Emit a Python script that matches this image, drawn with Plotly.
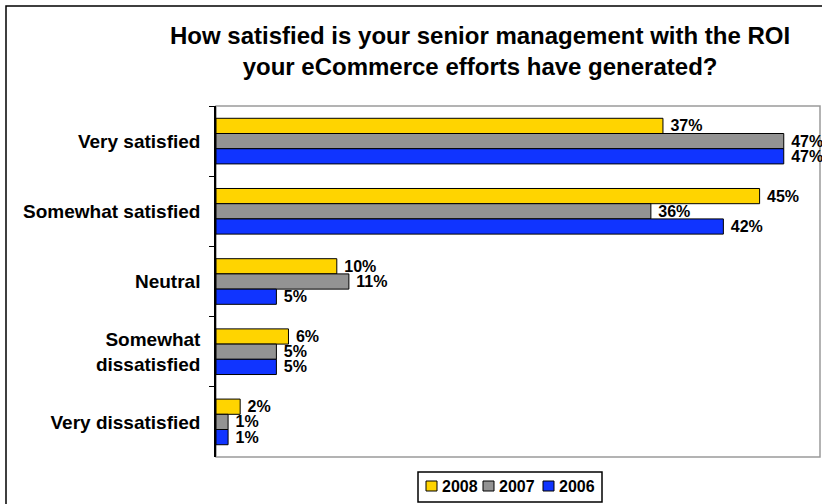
import plotly.graph_objects as go

# Survey responses (% of respondents) by year
categories = ["Very satisfied", "Somewhat satisfied", "Neutral",
              "Somewhat<br>dissatisfied", "Very dissatisfied"]
years = ["2008", "2007", "2006"]
values_2008 = [37, 45, 10, 6, 2]
values_2007 = [47, 36, 11, 5, 1]
values_2006 = [47, 42, 5, 5, 1]
colors = ["#FFD400", "#939393", "#1034FF"]

FONT = "Liberation Sans, Arial, sans-serif"

W, H = 822, 504
ML, MR, MT, MB = 216, 2, 106, 47
pw, ph = W - ML - MR, H - MT - MB


def px_x(p):
    return (p - ML) / pw


def px_y(p):
    return (H - MB - p) / ph


fig = go.Figure()
for year, vals, col in zip(years, [values_2008, values_2007, values_2006], colors):
    fig.add_trace(go.Bar(
        y=categories, x=vals, name=year, orientation="h",
        marker=dict(color=col, line=dict(color="black", width=1)),
        text=[f" {v}%" for v in vals], textposition="outside",
        textfont=dict(family=FONT, size=16, color="black", weight="bold"),
        constraintext="none", cliponaxis=False, showlegend=False,
    ))

shapes = [
    # plot area frame
    dict(type="rect", xref="paper", yref="paper", x0=0, x1=1, y0=0, y1=1,
         line=dict(color="#9a9a9a", width=1.5), layer="below"),
    # outer chart border
    dict(type="rect", xref="paper", yref="paper",
         x0=px_x(6), x1=px_x(W + 10), y0=px_y(H + 10), y1=px_y(6),
         line=dict(color="black", width=1.5), layer="below"),
    # legend box
    dict(type="rect", xref="paper", yref="paper",
         x0=px_x(418), x1=px_x(602), y0=px_y(502), y1=px_y(472),
         line=dict(color="black", width=1.5), fillcolor="white"),
]
annotations = [
    dict(text="<b>How satisfied is your senior management with the ROI<br>"
              "your eCommerce efforts have generated?</b>",
         xref="paper", yref="paper", x=px_x(480), y=px_y(51),
         xanchor="center", yanchor="middle", showarrow=False,
         font=dict(family=FONT, size=24, color="black")),
]

# legend entries: swatch + year label
swatch_x = [426, 483, 543]
for year, col, sx in zip(years, colors, swatch_x):
    shapes.append(dict(type="rect", xref="paper", yref="paper",
                       x0=px_x(sx), x1=px_x(sx + 11), y0=px_y(491), y1=px_y(481),
                       line=dict(color="black", width=1), fillcolor=col))
    annotations.append(dict(text=f"<b>{year}</b>", xref="paper", yref="paper",
                            x=px_x(sx + 14), y=px_y(486.5),
                            xanchor="left", yanchor="middle", showarrow=False,
                            font=dict(family=FONT, size=16, color="black")))

fig.update_layout(
    width=W, height=H,
    margin=dict(l=ML, r=MR, t=MT, b=MB),
    paper_bgcolor="white", plot_bgcolor="white",
    barmode="group", bargap=0.35, bargroupgap=0,
    font=dict(family=FONT, color="black"),
    xaxis=dict(range=[0, 50], showgrid=False, showticklabels=False,
               zeroline=False, showline=False, ticks=""),
    yaxis=dict(autorange="reversed", type="category", showgrid=False,
               tickson="boundaries", ticks="outside", ticklen=5,
               tickcolor="black", showline=True, linecolor="black", linewidth=1.5,
               tickfont=dict(family=FONT, size=19, color="black", weight="bold"),
               ticklabelstandoff=10),
    showlegend=False,
    shapes=shapes,
    annotations=annotations,
)

fig.write_html("out.html")
